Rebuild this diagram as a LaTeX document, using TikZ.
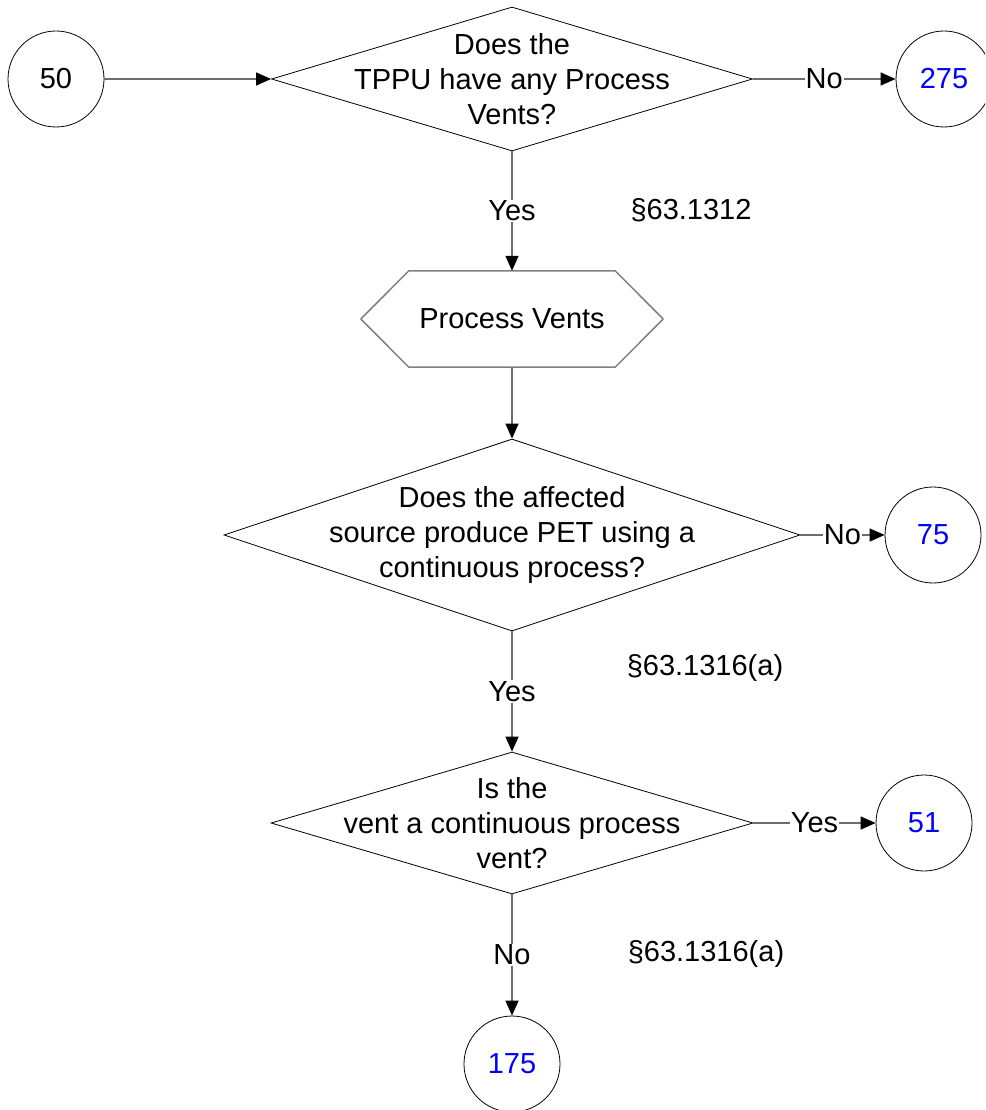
\documentclass[tikz,border=0pt]{standalone}
\usepackage{fontspec}
\setmainfont{Liberation Sans}
\usetikzlibrary{arrows.meta,shapes.geometric,calc,positioning}

\begin{document}
\begin{tikzpicture}[x=1pt, y=-1pt,
  every node/.style={font=\fontsize{29}{35}\selectfont},
  term/.style={circle, draw, line width=0.8pt, minimum size=96pt, inner sep=0pt},
  ask/.style={diamond, draw, line width=0.8pt, inner sep=0pt, aspect=3},
  prep/.style={rectangle, minimum width=206pt, minimum height=96pt, inner sep=0pt},
  flow/.style={draw=gray!85!black, line width=1.3pt, -{Triangle[length=15pt,width=13pt,black]}},
  cut/.style={fill=white, inner sep=1pt},
  ref/.style={}]
\useasboundingbox (0,0) rectangle (985,1110);
\clip (0,0) rectangle (985,1110);
\node[term] (c50) at (56,79) {50};
\node[ask, minimum width=481pt, minimum height=144pt, label={[align=center]center:{Does the\\TPPU have any Process\\Vents?}}] (d1) at (512,79) {};
\node[term, text=blue] (c275) at (944,79) {275};
\node[prep] (pv) at (512,319) {Process Vents};
\draw[gray, line width=1.5pt, line join=round] (pv.north west) -- (pv.north east) -- ($(pv.east)+(48,0)$) -- (pv.south east) -- (pv.south west) -- ($(pv.west)+(-48,0)$) -- cycle;
\node[ask, minimum width=576pt, minimum height=192pt, label={[align=center]center:{Does the affected\\source produce PET using a\\continuous process?}}] (d2) at (512,535) {};
\node[term, text=blue] (c75) at (933,535) {75};
\node[ask, minimum width=482pt, minimum height=142pt, label={[align=center]center:{Is the\\vent a continuous process\\vent?}}] (d3) at (512,823) {};
\node[term, text=blue] (c51) at (924,823) {51};
\node[term, text=blue] (c175) at (512,1064) {175};
% section references
\node[ref] (r1) at (691,210) {\S63.1312};
\node[ref] (r2) at (705,668) {\S63.1316(a)};
\node[ref] (r3) at (706,954) {\S63.1316(a)};
\draw[flow] (c50) -- (d1);
\draw[flow] (d1) -- node[cut] {No} (c275);
\draw[flow] (d1) -- node[cut] {Yes} (pv);
\draw[flow] (pv) -- (d2);
\draw[flow] (d2) -- node[cut] {No} (c75);
\draw[flow] (d2) -- node[cut] {Yes} (d3);
\draw[flow] (d3) -- node[cut] {Yes} (c51);
\draw[flow] (d3) -- node[cut] {No} (c175);
\end{tikzpicture}
\end{document}
